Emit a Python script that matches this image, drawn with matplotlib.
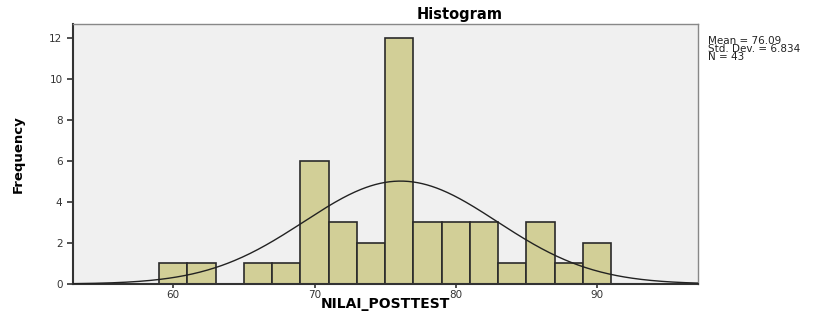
import matplotlib.pyplot as plt
import numpy as np

# histogram bins (width 2) and counts
bin_left = [59, 61, 63, 65, 67, 69, 71, 73, 75, 77, 79, 81, 83, 85, 87, 89]
counts = [1, 1, 0, 1, 1, 6, 3, 2, 12, 3, 3, 3, 1, 3, 1, 2]
bin_width = 2

mean_val = 76.09
std_val = 6.834
n_val = 43

x_ticks = [60, 70, 80, 90]
y_ticks = [0, 2, 4, 6, 8, 10, 12]

fig = plt.figure(figsize=(8.32, 3.13), dpi=100)
ax = fig.add_axes([0.0877, 0.0927, 0.7513, 0.8303])
ax.set_facecolor('#f0f0f0')

ax.bar(bin_left, counts, width=bin_width, align='edge',
       color='#d2cf97', edgecolor='#2a2a2a', linewidth=1.2, zorder=2)

# normal curve scaled to the counts
xs = np.linspace(52.9, 97.15, 400)
ys = n_val * bin_width / (std_val * np.sqrt(2 * np.pi)) * np.exp(-0.5 * ((xs - mean_val) / std_val) ** 2)
ax.plot(xs, ys, color='#222222', linewidth=1.0, zorder=3)

ax.set_xlim(52.9, 97.15)
ax.set_ylim(0, 12.68)
ax.set_xticks(x_ticks)
ax.set_yticks(y_ticks)
ax.tick_params(axis='both', labelsize=7.5, colors='#333333', width=1.2)
ax.tick_params(axis='y', length=4)
ax.tick_params(axis='x', length=3, pad=1)

for s in ['left', 'bottom']:
    ax.spines[s].set_linewidth(1.5)
    ax.spines[s].set_color('#333333')
for s in ['top', 'right']:
    ax.spines[s].set_linewidth(1.0)
    ax.spines[s].set_color('#888888')

# SPSS centres the title over the whole chart area
fig.text(0.552, 0.955, 'Histogram', fontsize=10.5, fontweight='bold', ha='center', va='center')
fig.text(0.463, 0.006, 'NILAI_POSTTEST', fontsize=10, fontweight='bold', ha='center', va='bottom')
ax.set_ylabel('Frequency', fontsize=9.5, fontweight='bold', family='Liberation Sans Narrow', labelpad=18)

fig.text(0.851, 0.885, 'Mean = %.2f\nStd. Dev. = %.3f\nN = %d' % (mean_val, std_val, n_val),
         fontsize=7.5, va='top', ha='left', color='#222222', linespacing=0.75)

fig.savefig('out.png', dpi=100)
